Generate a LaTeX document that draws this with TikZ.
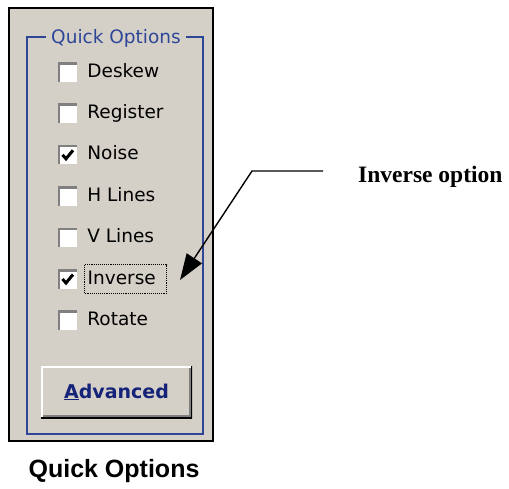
\documentclass[tikz,border=0pt]{standalone}
\usepackage{fontspec}
\usepackage{tikz}
\usetikzlibrary{positioning,arrows.meta}
\newfontfamily\uifont{DejaVu Sans}
\newfontfamily\capfont{Liberation Sans}
\newfontfamily\notefont{Liberation Serif}
\definecolor{panelgray}{RGB}{212,208,200}
\definecolor{groupblue}{RGB}{45,70,150}
\definecolor{btnblue}{RGB}{20,35,120}
\definecolor{shadowgray}{RGB}{128,128,128}

\tikzset{
  panel/.style={draw=black, line width=1.6pt, fill=panelgray,
    minimum width=204pt, minimum height=433pt},
  groupbox/.style={draw=groupblue, line width=1.1pt,
    minimum width=176pt, minimum height=397pt},
  legend/.style={fill=panelgray, text=groupblue, inner xsep=5pt, inner ysep=1pt,
    font=\uifont\fontsize{18.5}{20}\selectfont},
  chkbox/.style={fill=white, minimum size=19pt, inner sep=0pt,
    path picture={\draw[shadowgray, line width=4pt]
      (path picture bounding box.south west) -- (path picture bounding box.north west)
      -- (path picture bounding box.north east);}},
  optlabel/.style={font=\uifont\fontsize{18.5}{20}\selectfont, text height=14pt,
    text depth=4pt, inner xsep=3pt, inner ysep=5.5pt, right=7pt of #1},
  checkmark/.style={line width=3pt, line join=miter},
  button/.style={fill=panelgray, text=btnblue, minimum width=151pt, minimum height=52pt,
    font=\uifont\bfseries\fontsize{19}{21}\selectfont,
    path picture={
      \draw[white, line width=4pt] (path picture bounding box.south west)
        -- (path picture bounding box.north west) -- (path picture bounding box.north east);
      \draw[black, line width=3pt] (path picture bounding box.north east)
        -- (path picture bounding box.south east) -- (path picture bounding box.south west);
      \draw[shadowgray, line width=2pt] ([shift={(-2.5pt,-2pt)}]path picture bounding box.north east)
        -- ([shift={(-2.5pt,2.5pt)}]path picture bounding box.south east)
        -- ([shift={(2pt,2.5pt)}]path picture bounding box.south west);}},
  pointer/.style={line width=1.4pt, -{Triangle[length=26pt,width=18pt]}}
}

\begin{document}
\begin{tikzpicture}[x=1pt,y=-1pt]
\useasboundingbox (0,0) rectangle (509,488);
%----------------------------------
\node[panel] (panel) at (111,224.5) {};
\node[groupbox] (group) at (115,235.5) {};
\node[legend, anchor=base] (legend) at (116,43) {Quick Options};
%----------------------------------
\node[chkbox] (deskewbox) at (67.5,72) {};
\node[optlabel=deskewbox] (deskew) {Deskew};
\node[chkbox, below=22pt of deskewbox] (registerbox) {};
\node[optlabel=registerbox] (register) {Register};
\node[chkbox, below=22pt of registerbox] (noisebox) {};
\node[optlabel=noisebox] (noise) {Noise};
\node[chkbox, below=22pt of noisebox] (hlinesbox) {};
\node[optlabel=hlinesbox] (hlines) {H Lines};
\node[chkbox, below=22pt of hlinesbox] (vlinesbox) {};
\node[optlabel=vlinesbox] (vlines) {V Lines};
\node[chkbox, below=22pt of vlinesbox] (inversebox) {};
\node[optlabel=inversebox, text width=76pt, align=left, draw, densely dotted,
  line width=0.9pt] (inverse) {Inverse};
\node[chkbox, below=22pt of inversebox] (rotatebox) {};
\node[optlabel=rotatebox] (rotate) {Rotate};
%----------------------------------
\draw[checkmark] ([shift={(-5pt,0pt)}]noisebox.center) -- ([shift={(-1.5pt,-4pt)}]noisebox.center)
  -- ([shift={(5.5pt,4.5pt)}]noisebox.center);
\draw[checkmark] ([shift={(-5pt,0pt)}]inversebox.center) -- ([shift={(-1.5pt,-4pt)}]inversebox.center)
  -- ([shift={(5.5pt,4.5pt)}]inversebox.center);
%----------------------------------
\node[button] (advanced) at (116.5,392) {\underline{A}dvanced};
\node[anchor=base, inner sep=0pt, font=\capfont\bfseries\fontsize{25}{28}\selectfont]
  (caption) at (114,477) {Quick Options};
%----------------------------------
\node[anchor=base west, inner sep=0pt, font=\notefont\bfseries\fontsize{23.5}{26}\selectfont]
  (note) at (358,182) {Inverse option};
\coordinate (lineend) at (323,171);
\coordinate (knee) at (252,171);
\coordinate (tip) at (180,280);
\draw[pointer] (lineend) -- (knee) -- (tip);
\end{tikzpicture}
\end{document}
